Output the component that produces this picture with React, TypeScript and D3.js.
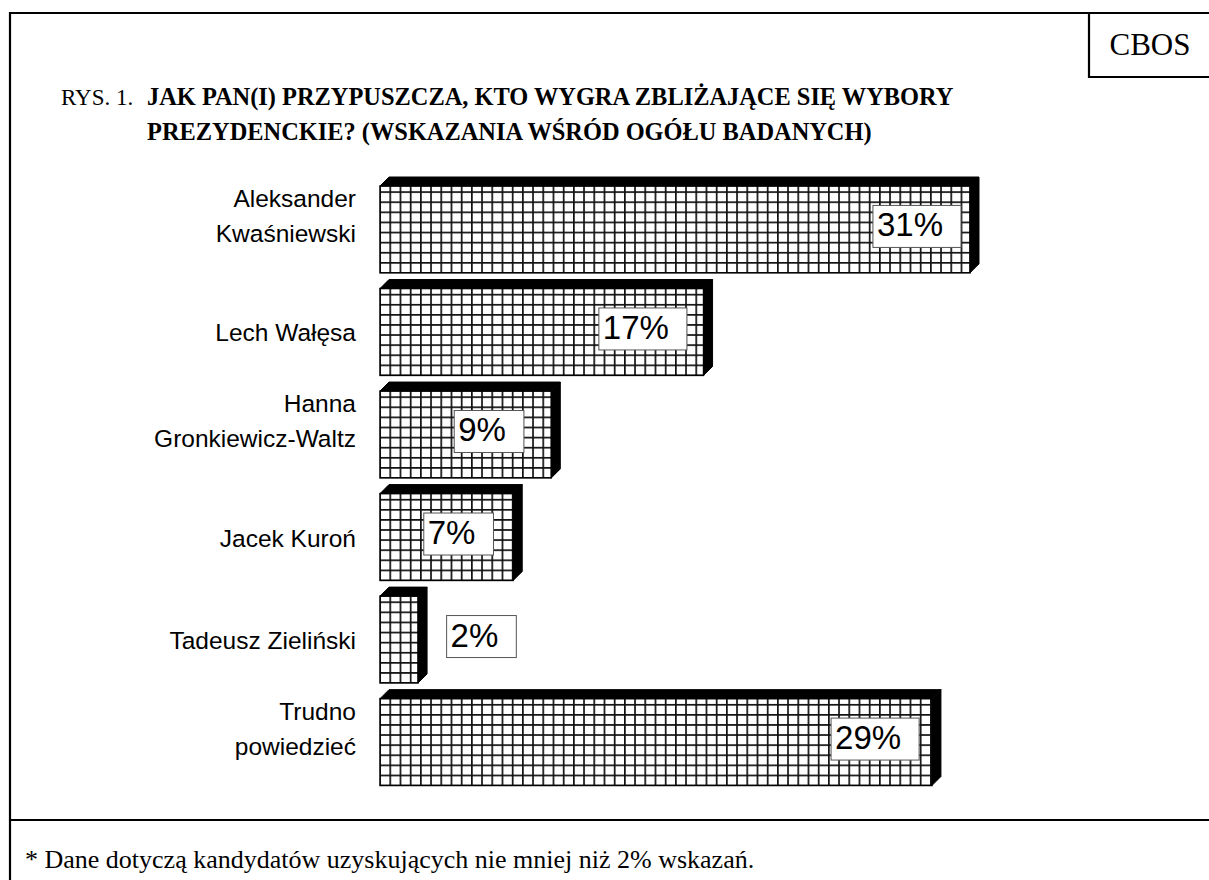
import { useEffect, useRef } from 'react';
import * as d3 from 'd3';

// candidates (line breaks as in the original chart)
const categories = [
  ['Aleksander', 'Kwaśniewski'],
  ['Lech Wałęsa'],
  ['Hanna', 'Gronkiewicz-Waltz'],
  ['Jacek Kuroń'],
  ['Tadeusz Zieliński'],
  ['Trudno', 'powiedzieć'],
];
const values = [31, 17, 9, 7, 2, 29];
// where the value box starts, in percent units
const labelAt = [25.9, 11.5, 3.9, 2.3, 3.5, 23.7];

const titleLines = [
  'JAK PAN(I) PRZYPUSZCZA, KTO WYGRA ZBLIŻAJĄCE SIĘ WYBORY',
  'PREZYDENCKIE? (WSKAZANIA WŚRÓD OGÓŁU BADANYCH)',
];
const footnote = '* Dane dotyczą kandydatów uzyskujących nie mniej niż 2% wskazań.';

const W = 1209;
const H = 880;
const serif = '"Liberation Serif", "Times New Roman", serif';
const sans = '"Liberation Sans", Arial, sans-serif';

export default function App() {
  const svgRef = useRef<SVGSVGElement>(null);

  useEffect(() => {
    if (!svgRef.current) return;
    const svg = d3.select(svgRef.current);
    svg.selectAll('*').remove();

    const depth = 9;
    const x = d3.scaleLinear().domain([0, 31]).range([380, 970]);
    const y = d3.scaleBand<number>()
      .domain(d3.range(values.length))
      .range([177, 785.5])
      .paddingInner(0.065)
      .paddingOuter(0);

    // frame
    const frame = svg.append('g').attr('stroke', '#000').attr('stroke-width', 2.2).attr('fill', 'none');
    frame.append('path').attr('d', `M10,${H + 5} V13 H${W + 5}`);
    frame.append('line').attr('x1', 10).attr('x2', W + 5).attr('y1', 820).attr('y2', 820);
    frame.append('path').attr('d', `M1089,13 V77 H${W + 5}`);

    svg.append('text')
      .attr('x', 1150).attr('y', 55)
      .attr('text-anchor', 'middle')
      .attr('font-family', serif).attr('font-size', 31)
      .text('CBOS');

    svg.append('text')
      .attr('x', 61).attr('y', 105)
      .attr('font-family', serif).attr('font-size', 23)
      .text('RYS. 1.');

    svg.append('g').selectAll('text')
      .data(titleLines)
      .join('text')
      .attr('x', 147)
      .attr('y', (_, i) => 105 + i * 35)
      .attr('font-family', serif).attr('font-size', 24.4).attr('font-weight', 'bold')
      .text(d => d);

    svg.append('text')
      .attr('x', 25).attr('y', 868)
      .attr('font-family', serif).attr('font-size', 26)
      .text(footnote);

    // grid patterns, one per bar so the cells line up with each bar's bottom
    const defs = svg.append('defs');
    const cw = 10.2;
    const ch = 10.1;
    values.forEach((_, i) => {
      const bottom = (y(i) as number) + y.bandwidth();
      const p = defs.append('pattern')
        .attr('id', `grid${i}`)
        .attr('patternUnits', 'userSpaceOnUse')
        .attr('x', x(0) - 0.8).attr('y', bottom - 0.8)
        .attr('width', cw).attr('height', ch);
      p.append('rect').attr('width', cw).attr('height', ch).attr('fill', '#fff');
      p.append('rect').attr('width', 1.7).attr('height', ch).attr('fill', '#111');
      p.append('rect').attr('width', cw).attr('height', 1.7).attr('fill', '#111');
    });

    const bars = svg.append('g');
    values.forEach((v, i) => {
      const top = y(i) as number;
      const fy = top + depth;
      const fb = top + y.bandwidth();
      const x0 = x(0);
      const x1 = x(v);
      const g = bars.append('g');
      g.append('rect')
        .attr('x', x0).attr('y', fy)
        .attr('width', x1 - x0).attr('height', fb - fy)
        .attr('fill', `url(#grid${i})`)
        .attr('stroke', '#000').attr('stroke-width', 1.5);
      g.append('path')
        .attr('d', `M${x0},${fy} L${x0 + depth},${top} L${x1 + depth},${top} L${x1},${fy} Z`)
        .attr('fill', '#000').attr('stroke', '#000').attr('stroke-width', 1);
      g.append('path')
        .attr('d', `M${x1},${fy} L${x1 + depth},${top} L${x1 + depth},${fb - depth} L${x1},${fb} Z`)
        .attr('fill', '#000').attr('stroke', '#000').attr('stroke-width', 1);
    });

    // category labels
    const cat = svg.append('g')
      .attr('font-family', sans).attr('font-size', 24.5)
      .attr('text-anchor', 'end');
    categories.forEach((lines, i) => {
      const cy = (y(i) as number) + y.bandwidth() / 2 + 2;
      const n = lines.length;
      lines.forEach((line, j) => {
        cat.append('text')
          .attr('x', 356)
          .attr('y', cy + 12 + (j - (n - 1) / 2) * 35 - (n - 1) * 14)
          .text(line);
      });
    });

    // value boxes
    const lab = svg.append('g');
    values.forEach((v, i) => {
      const cy = (y(i) as number) + depth + (y.bandwidth() - depth) / 2 - 3;
      const bx = x(labelAt[i]);
      const rect = lab.append('rect')
        .attr('x', bx).attr('y', cy - 21)
        .attr('height', 42)
        .attr('fill', '#fff').attr('stroke', '#555').attr('stroke-width', 1);
      const t = lab.append('text')
        .attr('x', bx + 4).attr('y', cy + 10)
        .attr('font-family', sans).attr('font-size', 33)
        .text(`${v}%`);
      const tw = (t.node() as SVGTextElement).getComputedTextLength();
      rect.attr('width', tw + 22);
    });
  }, []);

  return (
    <svg
      ref={svgRef}
      width={W}
      height={H}
      style={{ position: 'absolute', left: 0, top: 0, background: '#fff' }}
    />
  );
}
